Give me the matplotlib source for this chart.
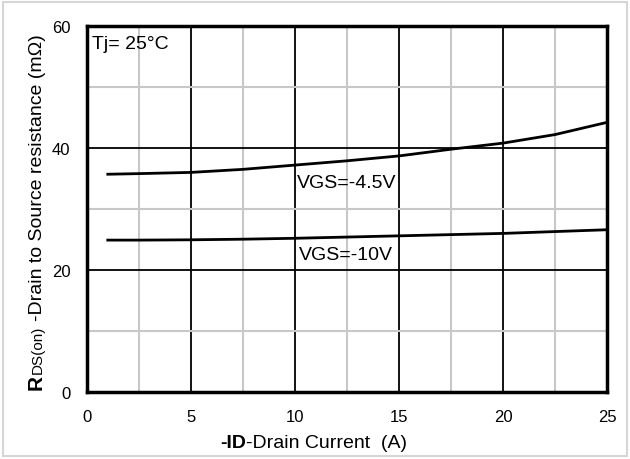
import numpy as np
import matplotlib
matplotlib.use('Agg')
import matplotlib.pyplot as plt
from matplotlib.patches import Rectangle
from matplotlib.ticker import MultipleLocator

plt.rcParams['font.family'] = ['Liberation Sans', 'DejaVu Sans']

# drain current (A) and on-resistance (mOhm)
id_a = [1, 2.5, 5, 7.5, 10, 12.5, 15, 17.5, 20, 22.5, 25]
r_vgs45 = [35.7, 35.8, 36.0, 36.5, 37.2, 37.9, 38.7, 39.8, 40.8, 42.2, 44.2]
r_vgs10 = [24.9, 24.9, 24.95, 25.05, 25.2, 25.4, 25.6, 25.8, 26.0, 26.3, 26.6]
curve_labels = ['VGS=-4.5V', 'VGS=-10V']

W, H = 630, 460
fig = plt.figure(figsize=(W / 100, H / 100), dpi=100)

def px(x, y):
    return x / W, 1 - y / H

# light frame around the whole figure
fig.patches.append(Rectangle((3 / W, 3 / H), (W - 6) / W, (H - 6) / H,
                             transform=fig.transFigure, fill=False,
                             edgecolor='#d6d6d6', linewidth=1.5))

ax = fig.add_axes([87 / W, (H - 393) / H, 520 / W, 366 / H])
ax.set_xlim(0, 25)
ax.set_ylim(0, 60)
ax.xaxis.set_major_locator(MultipleLocator(5))
ax.xaxis.set_minor_locator(MultipleLocator(2.5))
ax.yaxis.set_major_locator(MultipleLocator(20))
ax.yaxis.set_minor_locator(MultipleLocator(10))
ax.grid(which='minor', color='#c8c8c8', linewidth=1.5)
ax.grid(which='major', color='black', linewidth=1.3)
ax.set_axisbelow(True)
ax.tick_params(which='both', length=0, labelsize=12, pad=12)
for s in ax.spines.values():
    s.set_linewidth(2.5)

ax.plot(id_a, r_vgs45, color='black', linewidth=2)
ax.plot(id_a, r_vgs10, color='black', linewidth=2)

ax.text(10.1, 34.4, curve_labels[0], fontsize=14, va='center', ha='left')
ax.text(10.2, 22.6, curve_labels[1], fontsize=14, va='center', ha='left')
ax.text(0.25, 57.1, 'Tj= 25°C', fontsize=14, va='center', ha='left')

fig.canvas.draw()
renderer = fig.canvas.get_renderer()

def put_pieces(x0, y0, pieces, rotation=0):
    # pieces: (text, size, weight, gap_px_before)
    pos = 0.0
    for txt, size, weight, gap in pieces:
        pos += gap
        if rotation == 0:
            xy = px(x0 + pos, y0)
        else:
            xy = px(x0, y0 - pos)
        t = fig.text(xy[0], xy[1], txt, fontsize=size, fontweight=weight,
                     rotation=rotation, rotation_mode='anchor',
                     ha='left', va='baseline')
        bb = t.get_window_extent(renderer)
        pos += bb.width if rotation == 0 else bb.height

# x axis title
put_pieces(220, 448, [('-ID', 14, 'bold', 0),
                      ('-Drain Current  (A)', 14, 'normal', 0)])

# y axis title
put_pieces(42, 390, [('R', 15, 'bold', 0),
                     ('DS(on)', 11, 'normal', 1),
                     ('-Drain to Source resistance (mΩ)', 14, 'normal', 5)],
           rotation=90)

fig.savefig('out.png', dpi=100)
